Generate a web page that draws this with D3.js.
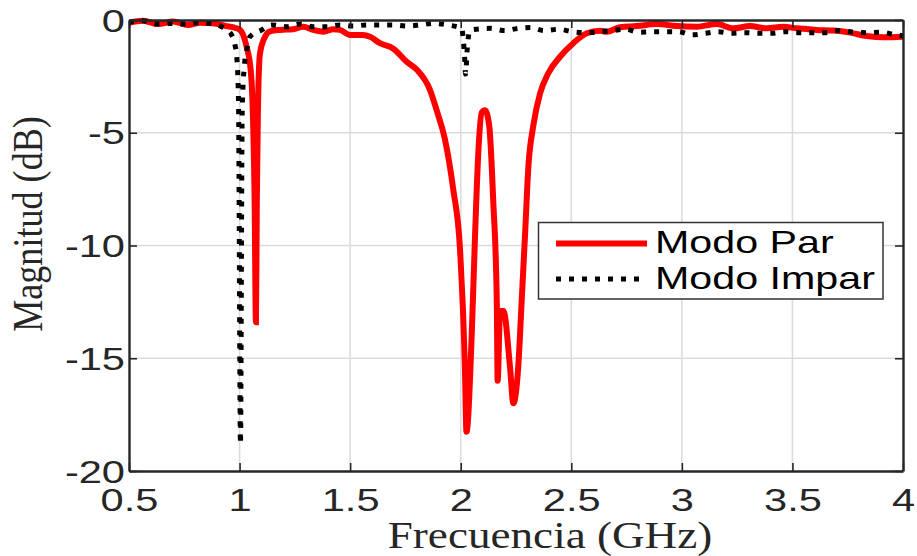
<!DOCTYPE html>
<html>
<head>
<meta charset="utf-8">
<script src="https://cdn.jsdelivr.net/npm/d3@7"></script>
<style>
  html, body { margin: 0; padding: 0; background: #fff; }
  svg { display: block; }
</style>
</head>
<body>
<svg id="chart" width="917" height="556"></svg>
<script>
// Modo Par (even mode) response: frequency in GHz, magnitude in dB
const parFreq = [0.500, 0.563, 0.631, 0.699, 0.767, 0.821, 0.880, 0.942, 0.970, 1.002,
  1.032, 1.050, 1.058, 1.068, 1.074, 1.078, 1.083, 1.092, 1.110, 1.138,
  1.183, 1.242, 1.288, 1.333, 1.379, 1.424, 1.454, 1.499, 1.558, 1.590,
  1.635, 1.694, 1.756, 1.801, 1.861, 1.891, 1.929, 1.966, 1.997, 2.019,
  2.026, 2.050, 2.065, 2.080, 2.095, 2.110, 2.129, 2.147, 2.163, 2.167,
  2.178, 2.193, 2.223, 2.238, 2.260, 2.276, 2.291, 2.306, 2.328, 2.359,
  2.396, 2.449, 2.509, 2.570, 2.630, 2.660, 2.720, 2.796, 2.886, 2.977,
  3.067, 3.158, 3.233, 3.308, 3.384, 3.459, 3.519, 3.610, 3.685, 3.760,
  3.836, 3.911, 4.000];
const parMag = [-0.12, -0.03, -0.18, -0.07, -0.22, -0.12, -0.15, -0.27, -0.32, -0.44,
  -1.2, -2.2, -3.5, -8.0, -13.4, -8.0, -4.0, -1.5, -0.85, -0.5,
  -0.44, -0.41, -0.30, -0.44, -0.52, -0.41, -0.44, -0.66, -0.66, -0.74,
  -1.03, -1.26, -1.85, -2.2, -3.1, -4.0, -5.3, -7.5, -10.2, -15.4,
  -18.26, -13.9, -9.5, -5.8, -4.1, -4.0, -4.7, -8.0, -12.4, -16.0,
  -12.9, -12.9, -15.4, -17.0, -15.4, -12.4, -9.5, -6.5, -4.7, -3.25,
  -2.36, -1.63, -1.03, -0.59, -0.48, -0.52, -0.32, -0.27, -0.18, -0.27,
  -0.30, -0.18, -0.37, -0.27, -0.37, -0.30, -0.37, -0.44, -0.47, -0.56,
  -0.71, -0.77, -0.74];

// Modo Impar (odd mode) response
const imparFreq = [0.500, 0.563, 0.631, 0.690, 0.750, 0.810, 0.870, 0.919, 0.942, 0.964,
  0.979, 0.987, 0.995, 1.004, 1.012, 1.022, 1.033, 1.047, 1.100, 1.145,
  1.213, 1.273, 1.333, 1.394, 1.454, 1.513, 1.575, 1.636, 1.694, 1.756,
  1.815, 1.875, 1.942, 2.004, 2.012, 2.018, 2.022, 2.030, 2.040, 2.050,
  2.133, 2.200, 2.259, 2.320, 2.375, 2.443, 2.505, 2.573, 2.633, 2.686,
  2.743, 2.804, 2.864, 2.924, 2.985, 3.045, 3.105, 3.165, 3.226, 3.286,
  3.346, 3.406, 3.466, 3.526, 3.587, 3.647, 3.707, 3.775, 3.836, 3.903,
  3.964, 4.000];
const imparMag = [-0.10, -0.03, -0.18, -0.15, -0.18, -0.12, -0.15, -0.30, -0.44, -0.66,
  -1.1, -1.6, -3.5, -18.8, -4.0, -2.0, -1.3, -0.74, -0.44, -0.22,
  -0.30, -0.18, -0.30, -0.30, -0.22, -0.27, -0.22, -0.22, -0.22, -0.27,
  -0.22, -0.15, -0.22, -0.37, -0.9, -1.7, -2.4, -1.2, -0.5, -0.44,
  -0.37, -0.47, -0.37, -0.33, -0.47, -0.41, -0.52, -0.56, -0.52, -0.47,
  -0.41, -0.54, -0.52, -0.52, -0.52, -0.66, -0.59, -0.52, -0.59, -0.56,
  -0.59, -0.59, -0.52, -0.56, -0.56, -0.56, -0.47, -0.54, -0.56, -0.54,
  -0.66, -0.70];

// Axis ticks and labels
const xTicks = [0.5, 1, 1.5, 2, 2.5, 3, 3.5, 4];
const xTickLabels = ["0.5", "1", "1.5", "2", "2.5", "3", "3.5", "4"];
const yTicks = [0, -5, -10, -15, -20];
const yTickLabels = ["0", "-5", "-10", "-15", "-20"];
const seriesNames = ["Modo Par", "Modo Impar"];
const xTitle = "Frecuencia (GHz)";
const yTitle = "Magnitud (dB)";

const svg = d3.select("#chart");
const plot = { left: 129, right: 903, top: 20, bottom: 471 };

const x = d3.scaleLinear().domain([0.5, 4]).range([plot.left, plot.right]);
const y = d3.scaleLinear().domain([-20, 0]).range([plot.bottom, plot.top]);

const axisColor = "#262626";
const sansFont = "'Liberation Sans', Arial, sans-serif";
const serifFont = "'Liberation Serif', 'Times New Roman', serif";
const tickFontSize = 32, tickStretch = 1.3;

// grid
const grid = svg.append("g").attr("class", "grid");
grid.selectAll("line.gx").data(xTicks.slice(1, -1)).join("line")
  .attr("x1", d => x(d)).attr("x2", d => x(d))
  .attr("y1", plot.top).attr("y2", plot.bottom)
  .attr("stroke", "#dcdcdc").attr("stroke-width", 1.6);
grid.selectAll("line.gy").data(yTicks.slice(1, -1)).join("line")
  .attr("x1", plot.left).attr("x2", plot.right)
  .attr("y1", d => y(d)).attr("y2", d => y(d))
  .attr("stroke", "#dcdcdc").attr("stroke-width", 1.6);

// curves
svg.append("clipPath").attr("id", "plotClip")
  .append("rect").attr("x", plot.left).attr("y", plot.top - 6)
  .attr("width", plot.right - plot.left).attr("height", plot.bottom - plot.top + 6);

const line = d3.line().x(d => x(d[0])).y(d => y(d[1])).curve(d3.curveMonotoneX);
const parData = parFreq.map((f, i) => [f, parMag[i]]);
const imparData = imparFreq.map((f, i) => [f, imparMag[i]]);

const curves = svg.append("g").attr("clip-path", "url(#plotClip)");
curves.append("path").datum(parData)
  .attr("d", line).attr("fill", "none")
  .attr("stroke", "#ff0000").attr("stroke-width", 6)
  .attr("stroke-linejoin", "miter");
curves.append("path").datum(imparData)
  .attr("d", line).attr("fill", "none")
  .attr("stroke", "#000").attr("stroke-width", 5)
  .attr("stroke-dasharray", "5,8");

// axes with inward ticks
const fmtX = d => xTickLabels[xTicks.indexOf(d)];
const fmtY = d => yTickLabels[yTicks.indexOf(d)];

const gx = svg.append("g").attr("transform", `translate(0,${plot.bottom})`)
  .call(d3.axisBottom(x).tickValues(xTicks).tickFormat(fmtX)
    .tickSizeInner(-8).tickSizeOuter(0).tickPadding(0));
const gy = svg.append("g").attr("transform", `translate(${plot.left},0)`)
  .call(d3.axisLeft(y).tickValues(yTicks).tickFormat(fmtY)
    .tickSizeInner(-8).tickSizeOuter(0).tickPadding(0));
const gxTop = svg.append("g").attr("transform", `translate(0,${plot.top})`)
  .call(d3.axisTop(x).tickValues(xTicks).tickFormat("")
    .tickSizeInner(-8).tickSizeOuter(0));
const gyRight = svg.append("g").attr("transform", `translate(${plot.right},0)`)
  .call(d3.axisRight(y).tickValues(yTicks).tickFormat("")
    .tickSizeInner(-8).tickSizeOuter(0));

[gx, gy, gxTop, gyRight].forEach(g => {
  g.select(".domain").attr("stroke", axisColor).attr("stroke-width", 2.4);
  g.selectAll(".tick line").attr("stroke", axisColor).attr("stroke-width", 1.6);
});

gx.selectAll(".tick text")
  .attr("fill", axisColor)
  .attr("font-family", sansFont).attr("font-size", tickFontSize)
  .attr("dy", null).attr("y", 40).attr("x", 0)
  .attr("text-anchor", "middle")
  .attr("transform", `scale(${tickStretch},1)`);

gy.selectAll(".tick text")
  .attr("fill", axisColor)
  .attr("font-family", sansFont).attr("font-size", tickFontSize)
  .attr("dy", null).attr("y", 11).attr("x", -4 / tickStretch)
  .attr("text-anchor", "end")
  .attr("transform", `scale(${tickStretch},1)`);

// axis titles
svg.append("text")
  .attr("transform", "translate(550,548) scale(1.22,1)")
  .attr("text-anchor", "middle")
  .attr("font-family", serifFont).attr("font-size", 37)
  .attr("fill", axisColor)
  .text(xTitle);

svg.append("text")
  .attr("transform", "translate(42,224) rotate(-90) scale(0.86,1)")
  .attr("text-anchor", "middle")
  .attr("font-family", serifFont).attr("font-size", 42)
  .attr("fill", axisColor)
  .text(yTitle);

// legend
const legend = svg.append("g");
legend.append("rect")
  .attr("x", 538.5).attr("y", 222.5).attr("width", 344.5).attr("height", 76.5)
  .attr("fill", "#fff").attr("stroke", "#333").attr("stroke-width", 1.5);
const legendRows = [
  { name: seriesNames[0], y: 243.5, color: "#ff0000", width: 6, dash: null },
  { name: seriesNames[1], y: 279, color: "#000", width: 5, dash: "5,8" }
];
legendRows.forEach(r => {
  legend.append("line")
    .attr("x1", 556).attr("x2", 647).attr("y1", r.y).attr("y2", r.y)
    .attr("stroke", r.color).attr("stroke-width", r.width)
    .attr("stroke-dasharray", r.dash);
  legend.append("text")
    .attr("transform", `translate(655,${r.y + 9.5}) scale(1.33,1)`)
    .attr("font-family", sansFont).attr("font-size", 31)
    .attr("fill", "#000")
    .text(r.name);
});
</script>
</body>
</html>
